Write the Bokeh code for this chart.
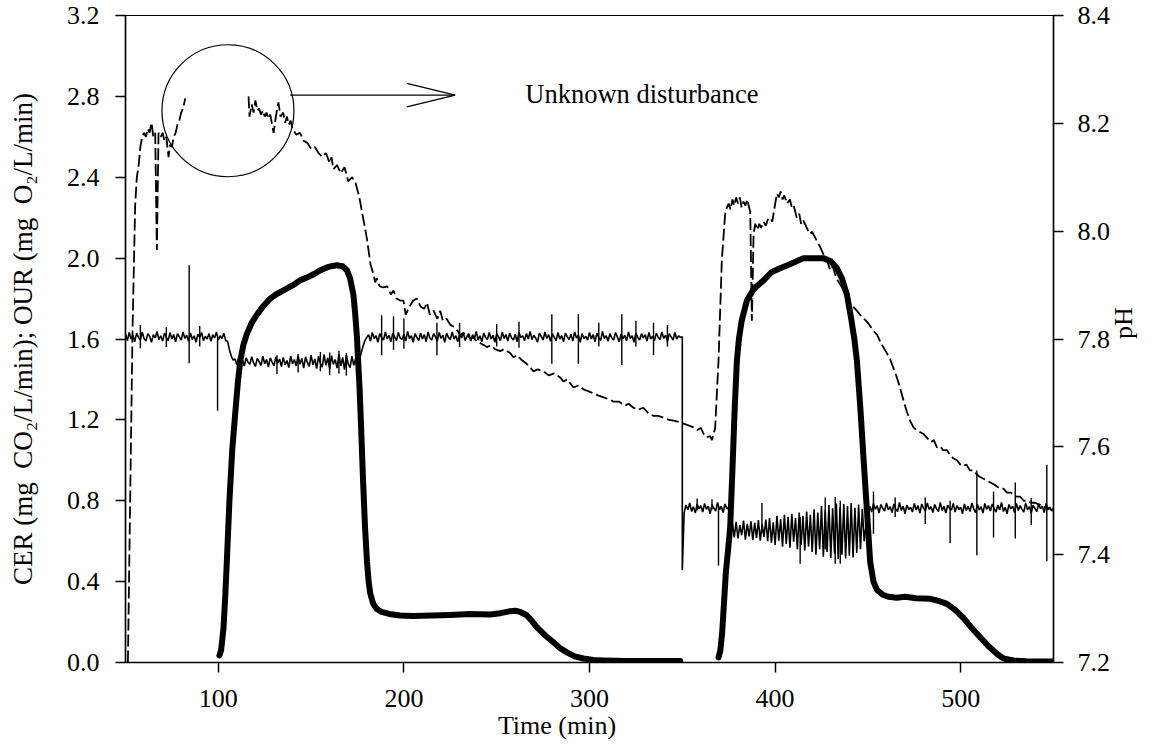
import math
from bokeh.plotting import figure
from bokeh.models import Range1d, LinearAxis, FixedTicker, PrintfTickFormatter
from bokeh.core.properties import value
from bokeh.embed import file_html
from bokeh.resources import INLINE

FONT = "Liberation Serif"
NaN = float("nan")

# ---------------- data ----------------
X_TICKS = [100, 200, 300, 400, 500]
LEFT_TICKS = [0.0, 0.4, 0.8, 1.2, 1.6, 2.0, 2.4, 2.8, 3.2]
PH_TICKS = [7.2, 7.4, 7.6, 7.8, 8.0, 8.2, 8.4]

# thick curve (left axis)
CER_T = [100.6, 101.5, 102.8, 103.7, 104.6, 106, 107.5, 109.1, 110.5, 111.8, 113.5, 115.4, 118, 120.8,
         124, 128, 131, 135.1, 140, 144.1, 148, 151.3, 155, 158.5, 161, 163.9, 167, 169.3, 171, 172.8,
         173.8, 174.7, 175.4, 176.1, 177, 178, 179, 180.1, 181, 181.9, 183.5, 185.4, 188, 192, 198,
         205, 215, 225, 235.7, 246.5, 252, 257.3, 260, 262.7, 266, 269, 271.6, 276, 280.6, 284, 287.8,
         292, 296.8, 302, 307.6, 320, 335, 348.9,
         NaN,
         369.5, 370.5, 371.5, 372.5, 373.5, 374.6, 375.8, 377, 378.2, 379.4, 380.5, 382, 384.8, 388,
         390, 393.8, 398, 402.7, 408, 415.3, 420, 426, 430, 433.3, 436, 438.7, 441, 442.7, 444.1, 446,
         447.7, 449.5, 451.2, 453, 454.8, 458, 461, 465.6, 470, 476, 483.6, 488, 492.6, 497, 501.5,
         506, 510.5, 515, 519.5, 523, 528.4, 535, 542, 550]
CER_V = [0.035, 0.06, 0.17, 0.32, 0.50, 0.80, 1.05, 1.23, 1.38, 1.49, 1.57, 1.625, 1.68, 1.72,
         1.76, 1.80, 1.82, 1.84, 1.865, 1.89, 1.905, 1.92, 1.94, 1.954, 1.96, 1.965, 1.96, 1.94, 1.90, 1.82,
         1.72, 1.61, 1.48, 1.36, 1.15, 0.90, 0.68, 0.50, 0.40, 0.34, 0.29, 0.265, 0.25, 0.24, 0.232,
         0.23, 0.232, 0.235, 0.24, 0.237, 0.244, 0.254, 0.256, 0.25, 0.235, 0.205, 0.175, 0.135, 0.10, 0.072, 0.05,
         0.03, 0.02, 0.012, 0.01, 0.008, 0.008, 0.008,
         NaN,
         0.025, 0.06, 0.15, 0.30, 0.45, 0.55, 0.67, 0.95, 1.25, 1.49, 1.60, 1.69, 1.79, 1.84,
         1.86, 1.89, 1.93, 1.95, 1.97, 2.0, 2.0, 2.0, 1.985, 1.95, 1.90, 1.82, 1.70, 1.60, 1.49, 1.25,
         1.0, 0.75, 0.50, 0.40, 0.36, 0.335, 0.325, 0.32, 0.325, 0.318, 0.315, 0.305, 0.29, 0.26, 0.22,
         0.17, 0.125, 0.08, 0.043, 0.02, 0.01, 0.006, 0.005, 0.005]

# dashed curve (left axis)
OUR_T = [51.3, 52.5, 53.8, 55.2, 56.1, 57, 58, 59, 60, 61, 62, 63, 64, 65, 66, 66.9, 67.8, 69, 70, 71,
         72, 73.2, 74, 75, 76, 77, 78, 79, 80, 81, 82.2,
         NaN,
         116.3, 116.8, 118, 119, 120, 121, 122, 123, 124, 125, 126, 127, 128, 129.8, 131, 132.4, 133.5,
         135, 136, 137, 138, 139, 140, 142, 144, 146, 148, 150, 152, 154, 156, 158, 160, 161, 162, 164,
         166, 168, 170, 172, 174, 176, 178, 180, 182, 183.6, 184.5, 185.4, 187, 189, 191, 193, 194.4,
         196, 198, 199.8, 201, 203, 205, 207, 209, 211, 212.4, 214, 216, 218, 219.6, 221, 223, 225,
         227, 229, 230.3, 232, 234, 236, 237.5, 239, 241, 243, 244.7, 247, 249, 251.9, 254, 257.3,
         259, 261, 263, 266.3, 268, 269.8, 272, 275.2, 278, 281, 284.2, 286, 288, 291.4, 294, 297,
         300, 302.2, 305, 308, 311, 313, 316, 319, 321, 323.7, 326, 329, 332, 334.5, 337, 340, 343,
         345.3, 348, 351, 354, 356, 358, 360, 362, 363.2, 365, 366, 367.7, 369.5, 371.3, 373.1, 374,
         375, 376, 377, 378, 379, 380, 381, 382, 383, 384, 385, 386, 386.6, 387.5, 388.4, 389.3,
         390.5, 391.5, 392.5, 393.8, 395, 396, 397.4, 398.5, 399.5, 401, 402, 403, 404, 405, 406.4,
         408, 409, 410, 411.7, 413, 414, 415, 417.1, 418.5, 420, 422.5, 424, 426, 428, 429.7, 431,
         433, 435.1, 437, 439, 440.5, 442, 444, 445.8, 448, 450, 453, 455, 457, 460.2, 462, 464,
         465.6, 467, 469.2, 471, 473, 474.6, 476, 478, 480, 482, 484, 485.5, 487.2, 489, 490.5,
         492.6, 494, 496, 498, 499.7, 501.5, 503, 505, 506.9, 508.7, 510, 512, 514.1, 516, 518,
         519.5, 521.3, 523, 525, 527, 528.4, 530, 532, 534, 535.6, 538, 540, 542.8, 545, 548]
OUR_V = [0.0, 0.8, 1.65, 2.26, 2.40, 2.45, 2.55, 2.60, 2.62, 2.60, 2.64, 2.62, 2.67, 2.60, 2.62, 2.04,
         2.62, 2.60, 2.62, 2.58, 2.60, 2.50, 2.56, 2.55, 2.60, 2.62, 2.66, 2.68, 2.72, 2.74, 2.79,
         NaN,
         2.80, 2.70, 2.76, 2.72, 2.78, 2.73, 2.74, 2.71, 2.73, 2.70, 2.72, 2.69, 2.71, 2.62, 2.70, 2.77,
         2.70, 2.72, 2.67, 2.70, 2.66, 2.68, 2.64, 2.61, 2.62, 2.58, 2.57, 2.54, 2.55, 2.52, 2.50, 2.52,
         2.47, 2.50, 2.44, 2.46, 2.42, 2.45, 2.38, 2.40, 2.37, 2.30, 2.20, 2.10, 1.97, 1.92, 1.88, 1.90,
         1.86, 1.855, 1.86, 1.82, 1.84, 1.80, 1.79, 1.79, 1.72, 1.76, 1.79, 1.80, 1.76, 1.75, 1.78,
         1.72, 1.74, 1.70, 1.74, 1.69, 1.70, 1.67, 1.66, 1.64, 1.62, 1.63, 1.62, 1.60, 1.61, 1.59,
         1.58, 1.57, 1.56, 1.57, 1.55, 1.54, 1.55, 1.53, 1.51, 1.52, 1.50, 1.476, 1.46, 1.44, 1.45,
         1.44, 1.42, 1.43, 1.41, 1.39, 1.40, 1.36, 1.37, 1.35, 1.34, 1.33, 1.32, 1.31, 1.30, 1.29,
         1.29, 1.27, 1.28, 1.26, 1.25, 1.26, 1.23, 1.22, 1.22, 1.21, 1.20, 1.196, 1.19, 1.18, 1.17,
         1.163, 1.15, 1.16, 1.12, 1.114, 1.12, 1.10, 1.16, 1.49, 1.99, 2.22, 2.25, 2.27, 2.24, 2.29,
         2.26, 2.30, 2.27, 2.30, 2.25, 2.28, 2.26, 2.29, 2.25, 2.23, 1.69, 2.12, 2.17, 2.14, 2.17,
         2.15, 2.18, 2.16, 2.19, 2.20, 2.18, 2.24, 2.32, 2.30, 2.33, 2.29, 2.31, 2.27, 2.29, 2.25,
         2.26, 2.20, 2.22, 2.17, 2.19, 2.15, 2.12, 2.13, 2.086, 2.06, 2.02, 1.99, 1.94, 1.96, 1.90,
         1.87, 1.84, 1.80, 1.77, 1.76, 1.74, 1.72, 1.70, 1.68, 1.64, 1.62, 1.58, 1.53, 1.50, 1.45,
         1.41, 1.37, 1.295, 1.24, 1.19, 1.163, 1.15, 1.14, 1.13, 1.11, 1.09, 1.10, 1.064, 1.07, 1.05,
         1.05, 1.03, 1.01, 1.00, 0.98, 0.97, 0.98, 0.95, 0.95, 0.93, 0.92, 0.91, 0.90, 0.89, 0.88,
         0.87, 0.86, 0.86, 0.84, 0.84, 0.83, 0.82, 0.82, 0.80, 0.80, 0.79, 0.79, 0.78, 0.77, 0.76]

# noisy pH trace (right axis), one reading per minute, with the step at 350 min
PH_T = list(range(50, 351)) + [350] + list(range(351, 551))
PH_V = [
    # 50-104
    7.809, 7.797, 7.812, 7.800, 7.807, 7.795, 7.811, 7.803, 7.798, 7.813,
    7.801, 7.796, 7.810, 7.805, 7.794, 7.808, 7.802, 7.814, 7.799, 7.806,
    7.796, 7.811, 7.803, 7.797, 7.812, 7.800, 7.808, 7.795, 7.810, 7.804,
    7.798, 7.813, 7.801, 7.807, 7.796, 7.811, 7.799, 7.806, 7.794, 7.809,
    7.803, 7.812, 7.797, 7.805, 7.800, 7.810, 7.796, 7.808, 7.802, 7.813,
    7.798, 7.806, 7.801, 7.811, 7.797,
    # 105-108
    7.796, 7.780, 7.768, 7.761,
    # 109-175
    7.763, 7.752, 7.766, 7.755, 7.761, 7.750, 7.765, 7.757, 7.753, 7.767,
    7.756, 7.749, 7.764, 7.758, 7.751, 7.768, 7.754, 7.762, 7.748, 7.765,
    7.757, 7.750, 7.767, 7.755, 7.763, 7.749, 7.766, 7.752, 7.760, 7.747,
    7.768, 7.754, 7.762, 7.750, 7.769, 7.753, 7.764, 7.746, 7.767, 7.756,
    7.749, 7.770, 7.752, 7.763, 7.745, 7.768, 7.755, 7.748, 7.771, 7.751,
    7.765, 7.744, 7.769, 7.753, 7.762, 7.746, 7.772, 7.750, 7.766, 7.743,
    7.770, 7.754, 7.747, 7.768, 7.751, 7.764, 7.749,
    # 176-180
    7.762, 7.774, 7.787, 7.797, 7.803,
    # 181-349
    7.808, 7.796, 7.812, 7.801, 7.806, 7.794, 7.810, 7.803, 7.798, 7.813,
    7.800, 7.807, 7.795, 7.811, 7.804, 7.797, 7.812, 7.802, 7.799, 7.809,
    7.796, 7.814, 7.801, 7.806, 7.794, 7.810, 7.803, 7.797, 7.811, 7.800,
    7.808, 7.795, 7.813, 7.802, 7.798, 7.810, 7.804, 7.796, 7.812, 7.801,
    7.807, 7.794, 7.811, 7.803, 7.799, 7.813, 7.800, 7.806, 7.795, 7.809,
    7.802, 7.812, 7.797, 7.805, 7.810, 7.796, 7.808, 7.801, 7.814, 7.798,
    7.806, 7.795, 7.811, 7.803, 7.799, 7.812, 7.800, 7.807, 7.794, 7.810,
    7.804, 7.797, 7.813, 7.801, 7.808, 7.796, 7.811, 7.802, 7.798, 7.809,
    7.795, 7.812, 7.803, 7.806, 7.797, 7.810, 7.800, 7.814, 7.799, 7.807,
    7.802, 7.794, 7.811, 7.805, 7.798, 7.813, 7.801, 7.808, 7.796, 7.810,
    7.803, 7.797, 7.812, 7.800, 7.806, 7.795, 7.811, 7.804, 7.799, 7.809,
    7.796, 7.813, 7.802, 7.807, 7.794, 7.810, 7.801, 7.805, 7.798, 7.812,
    7.800, 7.808, 7.795, 7.811, 7.803, 7.797, 7.814, 7.801, 7.806, 7.796,
    7.810, 7.802, 7.798, 7.812, 7.804, 7.795, 7.809, 7.800, 7.807, 7.797,
    7.813, 7.801, 7.806, 7.794, 7.811, 7.803, 7.798, 7.810, 7.802, 7.808,
    7.796, 7.812, 7.800, 7.805, 7.797, 7.811, 7.803, 7.799, 7.813, 7.801,
    7.807, 7.795, 7.810, 7.804, 7.798, 7.812, 7.800, 7.806, 7.803,
    # 350, then the step down
    7.804, 7.371,
    # 351-375
    7.478, 7.492, 7.483, 7.496, 7.480, 7.489, 7.477, 7.494, 7.485, 7.491,
    7.479, 7.495, 7.484, 7.490, 7.476, 7.493, 7.486, 7.481, 7.497, 7.483,
    7.490, 7.478, 7.494, 7.485, 7.488,
    # 376
    7.462,
    # 377-448
    7.458, 7.432, 7.461, 7.430, 7.455, 7.436, 7.463, 7.428, 7.457, 7.434,
    7.462, 7.427, 7.459, 7.431, 7.464, 7.426, 7.456, 7.433, 7.465, 7.425,
    7.468, 7.422, 7.460, 7.418, 7.472, 7.426, 7.466, 7.415, 7.474, 7.420,
    7.470, 7.413, 7.476, 7.424, 7.468, 7.410, 7.478, 7.418, 7.472, 7.408,
    7.480, 7.415, 7.474, 7.405,
    7.484, 7.400, 7.478, 7.410, 7.490, 7.396, 7.482, 7.405, 7.492, 7.394,
    7.486, 7.402, 7.495, 7.392, 7.488, 7.400, 7.494, 7.393, 7.490, 7.398,
    7.496, 7.395, 7.487, 7.403, 7.493, 7.410, 7.485, 7.425,
    # 449-450
    7.455, 7.478,
    # 451-550
    7.490, 7.479, 7.495, 7.484, 7.491, 7.477, 7.493, 7.486, 7.481, 7.496,
    7.483, 7.489, 7.478, 7.494, 7.485, 7.480, 7.497, 7.482, 7.490, 7.476,
    7.492, 7.484, 7.488, 7.479, 7.495, 7.483, 7.491, 7.477, 7.494, 7.486,
    7.481, 7.496, 7.484, 7.489, 7.478, 7.493, 7.485, 7.480, 7.497, 7.482,
    7.490, 7.477, 7.492, 7.486, 7.483, 7.495, 7.479, 7.491, 7.484, 7.488,
    7.476, 7.494, 7.482, 7.490, 7.480, 7.496, 7.485, 7.478, 7.493, 7.483,
    7.489, 7.477, 7.495, 7.484, 7.491, 7.481, 7.494, 7.486, 7.479, 7.492,
    7.483, 7.497, 7.480, 7.488, 7.476, 7.493, 7.485, 7.490, 7.478, 7.495,
    7.482, 7.491, 7.484, 7.479, 7.496, 7.483, 7.489, 7.477, 7.492, 7.486,
    7.480, 7.494, 7.485, 7.490, 7.478, 7.495, 7.483, 7.488, 7.481, 7.487,
]

# isolated spikes of the pH trace
SPIKE_T = [58, 72, 84.3, 90, 99.6, 131.6, 143, 155, 160, 165, 169, 188, 194.4, 200, 217.8, 230, 250, 262,
           279.7, 294, 305, 317.4, 325, 334.5, 342, 358, 366, 369.5, 392.9, 413.5, 427, 432.4, 435.1,
           453, 464.7, 480.9, 494.3, 508.7, 517.7, 529.4, 538, 546.4]
SPIKE_LO = [7.783, 7.785, 7.755, 7.786, 7.667, 7.735, 7.738, 7.740, 7.733, 7.736, 7.732, 7.770, 7.780, 7.782,
            7.770, 7.785, 7.786, 7.784, 7.754, 7.754, 7.786, 7.752, 7.786, 7.770, 7.786, 7.482, 7.484,
            7.380, 7.440, 7.383, 7.410, 7.383, 7.383, 7.439, 7.470, 7.457, 7.421, 7.399, 7.432, 7.430,
            7.455, 7.388]
SPIKE_HI = [7.826, 7.822, 7.937, 7.824, 7.800, 7.770, 7.772, 7.776, 7.775, 7.778, 7.774, 7.844, 7.842, 7.838,
            7.830, 7.830, 7.828, 7.832, 7.846, 7.846, 7.830, 7.846, 7.834, 7.830, 7.826, 7.504, 7.503,
            7.490, 7.496, 7.470, 7.506, 7.507, 7.500, 7.517, 7.506, 7.506, 7.500, 7.556, 7.517, 7.534,
            7.505, 7.567]

# annotation ("Unknown disturbance")
NOTE_TEXT = "Unknown disturbance"
CIRCLE_T, CIRCLE_V, CIRCLE_R_PX = 105.2, 2.729, 66
ARROW_T0, ARROW_T1, ARROW_V = 138.7, 227.6, 2.806
HEAD_LEN_T, HEAD_HALF_V = 26.0, 0.058
NOTE_T, NOTE_V = 265.4, 2.813

# ---------------- figure ----------------
p = figure(width=1155, height=743, x_range=Range1d(50, 550), y_range=Range1d(0, 3.2),
           output_backend="svg", toolbar_location=None,
           min_border_left=125, min_border_right=102, min_border_top=15, min_border_bottom=81)
p.extra_y_ranges = {"ph": Range1d(7.2, 8.4)}
p.grid.visible = False
p.outline_line_color = "black"
p.outline_line_width = 1.2
p.background_fill_color = "white"
p.border_fill_color = "white"


def style_axis(ax, size="26px"):
    ax.axis_line_color = "black"
    ax.axis_line_width = 1.5
    ax.major_tick_line_color = "black"
    ax.major_tick_line_width = 1.5
    ax.major_tick_in = 0
    ax.major_tick_out = 10
    ax.minor_tick_line_color = None
    ax.major_label_text_font = FONT
    ax.major_label_text_font_size = size
    ax.major_label_text_color = "black"
    ax.axis_label_text_font = FONT
    ax.axis_label_text_font_style = "normal"
    ax.axis_label_text_color = "black"


xa = p.xaxis[0]
xa.ticker = FixedTicker(ticks=X_TICKS, minor_ticks=[])
style_axis(xa)
# the original title sits a little left of centre: trailing no-break spaces shift it
xa.axis_label = "Time (min)" + "\u00a0" * 10
xa.axis_label_text_font_size = "26px"
xa.major_label_standoff = 17
xa.axis_label_standoff = 1

ya = p.yaxis[0]
ya.ticker = FixedTicker(ticks=LEFT_TICKS, minor_ticks=[])
ya.formatter = PrintfTickFormatter(format="%.1f")
ya.axis_label = "CER (mg\u00a0 CO\u2082/L/min); OUR (mg\u00a0 O\u2082/L/min)"
style_axis(ya)
ya.axis_label_text_font_size = "27px"
ya.major_label_standoff = 16
ya.axis_label_standoff = 26

ra = LinearAxis(y_range_name="ph", axis_label="pH",
                ticker=FixedTicker(ticks=PH_TICKS, minor_ticks=[]),
                formatter=PrintfTickFormatter(format="%.1f"))
style_axis(ra)
ra.axis_label_text_font_size = "26px"
ra.major_label_standoff = 14
ra.axis_label_standoff = 10
ra.axis_label_orientation = math.pi / 2
p.add_layout(ra, "right")

# pH trace and spikes
p.line(PH_T, PH_V, y_range_name="ph", line_color="black", line_width=1.6)
p.segment(x0=SPIKE_T, y0=SPIKE_LO, x1=SPIKE_T, y1=SPIKE_HI, y_range_name="ph",
          line_color="black", line_width=1.4)

# dashed trace
p.line(OUR_T, OUR_V, line_color="black", line_width=1.8, line_dash="12 4")

# thick trace
p.line(CER_T, CER_V, line_color="black", line_width=6, line_cap="round", line_join="round")

# annotation
p.circle(x=[CIRCLE_T], y=[CIRCLE_V], radius=CIRCLE_R_PX, radius_units="screen",
         fill_color=None, line_color="black", line_width=1.2)
p.segment(x0=[ARROW_T0, ARROW_T1, ARROW_T1], y0=[ARROW_V, ARROW_V, ARROW_V],
          x1=[ARROW_T1, ARROW_T1 - HEAD_LEN_T, ARROW_T1 - HEAD_LEN_T],
          y1=[ARROW_V, ARROW_V + HEAD_HALF_V, ARROW_V - HEAD_HALF_V],
          line_color="black", line_width=1.2)
p.text(x=[NOTE_T], y=[NOTE_V], text=[NOTE_TEXT], text_font=value(FONT), text_font_size="26.5px",
       text_align="left", text_baseline="middle", text_color="black")

open("out.html", "w").write(file_html(p, INLINE))
